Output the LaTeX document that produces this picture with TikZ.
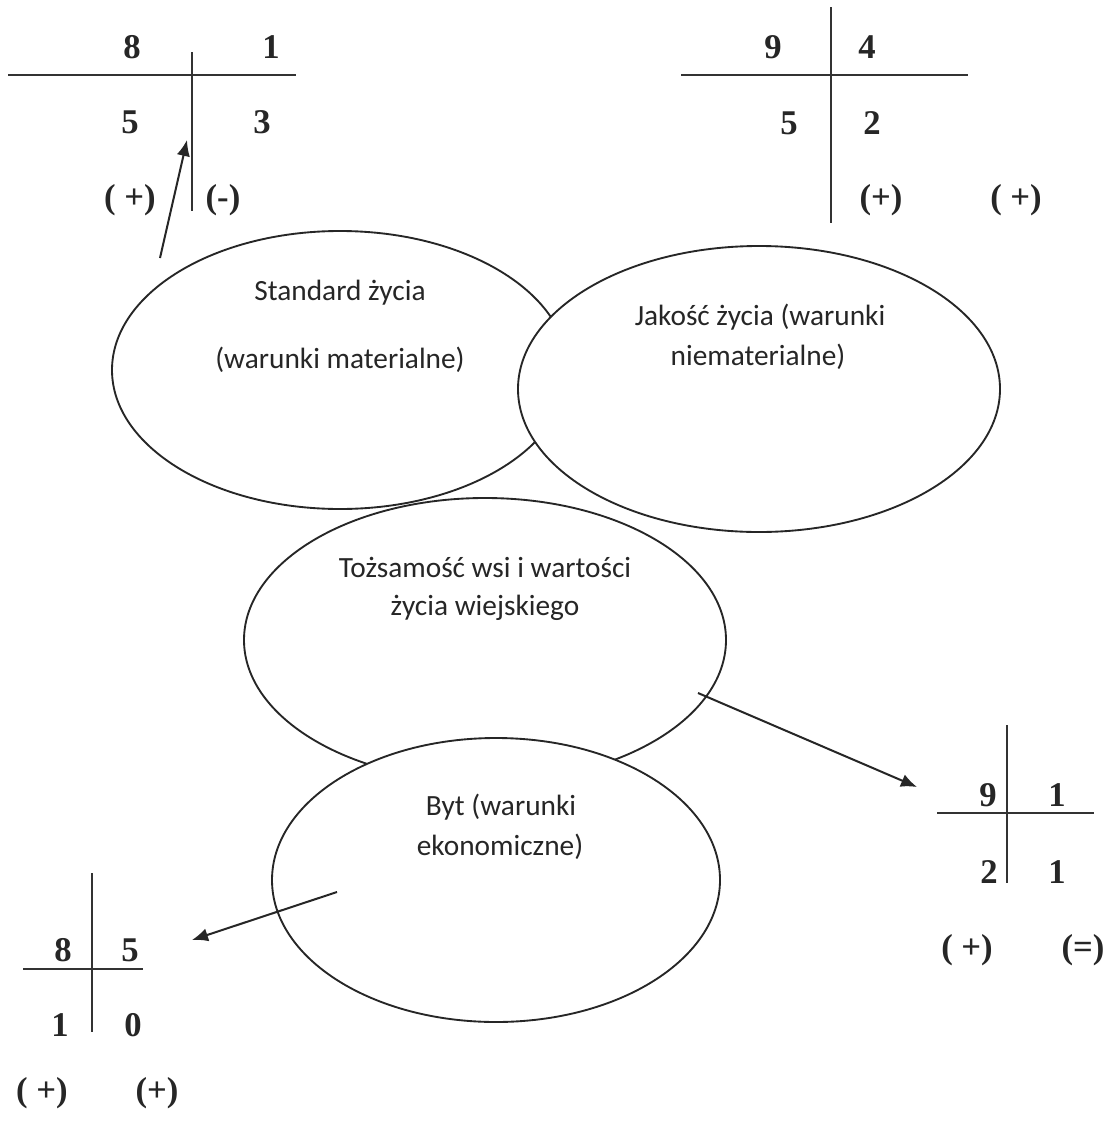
\documentclass[tikz,border=0pt]{standalone}
\usepackage{fontspec}
\setmainfont{Liberation Serif}
\newfontfamily\calfont{Carlito}
\usetikzlibrary{shapes.geometric,arrows.meta}
\begin{document}
\begin{tikzpicture}[x=0.75pt,y=-0.75pt,
  oval/.style={draw=black!85,line width=1.4pt,fill=white,ellipse,inner sep=0pt},
  ovaltext/.style={font=\calfont\fontsize{22}{26}\selectfont,text=black!85,inner sep=0pt,align=center},
  num/.style={font=\bfseries\fontsize{26}{30}\selectfont,text=black!85,inner sep=0pt},
  sign/.style={font=\bfseries\fontsize{26}{30}\selectfont,text=black!85,inner sep=0pt},
  tline/.style={draw=black!80,line width=1.5pt},
  arr/.style={draw=black!85,line width=1.5pt,-{Latex[length=12pt,width=10pt]}}]
\useasboundingbox[fill=white] (0,0) rectangle (1112,1121);

% ellipses
\node[oval,minimum width=342pt,minimum height=208.5pt] (std) at (340,370) {};
\node[oval,minimum width=361.5pt,minimum height=214.5pt] (jak) at (759,389) {};
\node[oval,minimum width=361.5pt,minimum height=213pt] (toz) at (485,640) {};
\node[oval,minimum width=336pt,minimum height=213pt] (byt) at (496,880) {};

\node[ovaltext] (stdA) at (340,293) {Standard życia};
\node[ovaltext] (stdB) at (340,360) {(warunki materialne)};
\node[ovaltext] (jakA) at (760,317) {Jakość życia (warunki};
\node[ovaltext] (jakB) at (758,357) {niematerialne)};
\node[ovaltext] (tozA) at (485,567) {Tożsamość wsi i wartości};
\node[ovaltext] (tozB) at (485,608) {życia wiejskiego};
\node[ovaltext] (bytA) at (501,807) {Byt (warunki};
\node[ovaltext] (bytB) at (500,847) {ekonomiczne)};

% table 1 (top left)
\coordinate (t1hl) at (8,75); \coordinate (t1hr) at (296,75);
\coordinate (t1vt) at (192,52); \coordinate (t1vb) at (192,211);
\draw[tline] (t1hl) -- (t1hr);
\draw[tline] (t1vt) -- (t1vb);
\node[num] (t1a) at (132,47) {8};
\node[num] (t1b) at (271,47) {1};
\node[num] (t1c) at (130,122) {5};
\node[num] (t1d) at (262,122) {3};
\node[sign] (t1e) at (130,200) {( +)};
\node[sign] (t1f) at (223,200) {(-)};
\coordinate (a1s) at (160,258); \coordinate (a1e) at (187,140);
\draw[arr] (a1s) -- (a1e);

% table 2 (top right)
\coordinate (t2hl) at (681,75); \coordinate (t2hr) at (968,75);
\coordinate (t2vt) at (831,7); \coordinate (t2vb) at (831,223);
\draw[tline] (t2hl) -- (t2hr);
\draw[tline] (t2vt) -- (t2vb);
\node[num] (t2a) at (773,47) {9};
\node[num] (t2b) at (867,47) {4};
\node[num] (t2c) at (789,123) {5};
\node[num] (t2d) at (872,123) {2};
\node[sign] (t2e) at (881,200) {(+)};
\node[sign] (t2f) at (1016,200) {( +)};

% table 3 (right middle)
\coordinate (t3hl) at (937,813); \coordinate (t3hr) at (1094,813);
\coordinate (t3vt) at (1007,725); \coordinate (t3vb) at (1007,883);
\draw[tline] (t3hl) -- (t3hr);
\draw[tline] (t3vt) -- (t3vb);
\node[num] (t3a) at (988,795) {9};
\node[num] (t3b) at (1057,795) {1};
\node[num] (t3c) at (989,872) {2};
\node[num] (t3d) at (1057,872) {1};
\node[sign] (t3e) at (967,950) {( +)};
\node[sign] (t3f) at (1083,950) {(=)};
\coordinate (a3s) at (698,693); \coordinate (a3e) at (917,787);
\draw[arr] (a3s) -- (a3e);

% table 4 (bottom left)
\coordinate (t4hl) at (23,969); \coordinate (t4hr) at (143,969);
\coordinate (t4vt) at (92,873); \coordinate (t4vb) at (92,1032);
\draw[tline] (t4hl) -- (t4hr);
\draw[tline] (t4vt) -- (t4vb);
\node[num] (t4a) at (63,950) {8};
\node[num] (t4b) at (130,950) {5};
\node[num] (t4c) at (60,1025) {1};
\node[num] (t4d) at (133,1025) {0};
\node[sign] (t4e) at (42,1093) {( +)};
\node[sign] (t4f) at (157,1093) {(+)};
\coordinate (a4s) at (337,892); \coordinate (a4e) at (192,940);
\draw[arr] (a4s) -- (a4e);
\end{tikzpicture}
\end{document}
